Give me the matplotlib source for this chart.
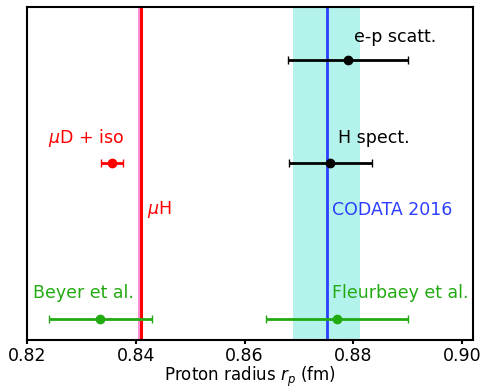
import numpy as np
import matplotlib.pyplot as plt

# measurements: radius and uncertainty (fm)
ep_r, ep_err = 0.879, 0.011
hs_r, hs_err = 0.8758, 0.0077
mud_r, mud_err = 0.8356, 0.002
beyer_r, beyer_err = 0.8335, 0.0095
fleur_r, fleur_err = 0.877, 0.013
muh_r, muh_err = 0.84087, 0.00039
codata_r, codata_err = 0.8751, 0.0061

row_ep = 1.66
row_h = 1.0
row_green = 0.0

fig, ax = plt.subplots(figsize=(4.84, 3.88), dpi=100)

ax.axvspan(codata_r - codata_err, codata_r + codata_err, color='#b4f3ec', lw=0)
ax.axvline(codata_r, color='#2b3dff', lw=2)
ax.axvspan(muh_r - muh_err, muh_r + muh_err, color='#ff8fd8', lw=0)
ax.axvline(muh_r, color='#ff0000', lw=2.2)

ax.errorbar(ep_r, row_ep, xerr=ep_err, fmt='o', color='k', ms=6, lw=2, capsize=3)
ax.errorbar(hs_r, row_h, xerr=hs_err, fmt='o', color='k', ms=6, lw=2, capsize=3)
ax.errorbar(mud_r, row_h, xerr=mud_err, fmt='o', color='#ff0000', ms=6, lw=2, capsize=3)
ax.errorbar(beyer_r, row_green, xerr=beyer_err, fmt='o', color='#22aa11', ms=6, lw=2, capsize=3)
ax.errorbar(fleur_r, row_green, xerr=fleur_err, fmt='o', color='#22aa11', ms=6, lw=2, capsize=3)

fs = 12.5
ax.text(0.8802, 1.81, 'e-p scatt.', fontsize=fs, color='k', va='center')
ax.text(0.8772, 1.16, 'H spect.', fontsize=fs, color='k', va='center')
ax.text(0.8378, 1.16, r'$\mu$D + iso', fontsize=fs, color='#ff0000', va='center', ha='right')
ax.text(0.8420, 0.70, r'$\mu$H', fontsize=fs, color='#ff0000', va='center')
ax.text(0.8761, 0.70, 'CODATA 2016', fontsize=fs, color='#2b3dff', va='center')
ax.text(0.8211, 0.167, 'Beyer et al.', fontsize=fs, color='#22aa11', va='center')
ax.text(0.8761, 0.167, 'Fleurbaey et al.', fontsize=fs, color='#22aa11', va='center')

ax.set_xlim(0.82, 0.902)
ax.set_ylim(-0.135, 2.0)
ax.set_xticks([0.82, 0.84, 0.86, 0.88, 0.90])
ax.set_xticklabels(['0.82', '0.84', '0.86', '0.88', '0.90'])
ax.set_yticks([])
ax.tick_params(axis='x', labelsize=12.5, width=1.5, length=3, direction='out', pad=2)
for s in ax.spines.values():
    s.set_linewidth(1.5)
ax.set_xlabel(r'Proton radius $r_p$ (fm)', fontsize=12, labelpad=0)

fig.subplots_adjust(left=0.056, right=0.977, top=0.982, bottom=0.124)
fig.savefig('out.png', dpi=100)
